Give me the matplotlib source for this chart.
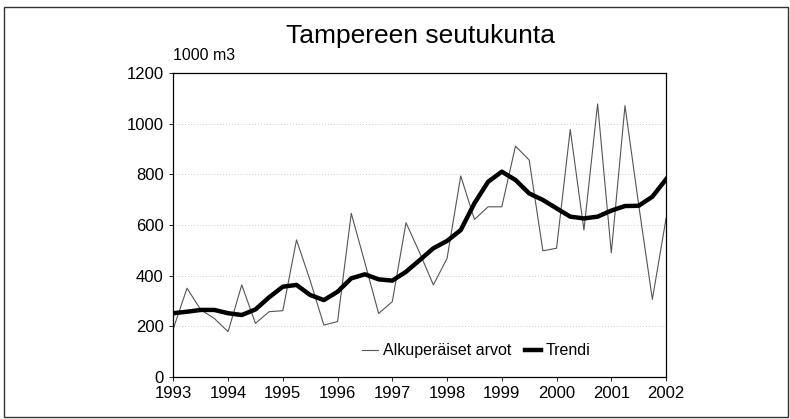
import matplotlib.pyplot as plt
import numpy as np
from matplotlib.patches import Rectangle

# quarterly values, 1993Q1 .. 2002Q1 (1000 m3)
YEAR_START = 1993.0
ORIGINAL = [190, 350, 265, 230, 178, 363, 211, 257, 261, 541, 380, 204, 218, 646,
            450, 250, 297, 609, 490, 363, 468, 794, 622, 672, 672, 912, 857, 498,
            508, 978, 580, 1079, 490, 1072, 680, 306, 626]
TREND = [251, 257, 264, 264, 251, 244, 266, 314, 356, 363, 323, 303, 336, 389,
         405, 385, 380, 415, 461, 508, 537, 580, 686, 771, 811, 778, 725, 699,
         666, 633, 626, 633, 657, 675, 676, 712, 781]
YEARS = list(range(1993, 2003))

plt.rcParams['font.family'] = ['Liberation Sans', 'DejaVu Sans']

x = YEAR_START + np.arange(len(ORIGINAL)) * 0.25

fig = plt.figure(figsize=(7.9, 4.19), dpi=100)
ax = fig.add_axes([0.2194, 0.101, 0.6237, 0.724])

ax.plot(x, ORIGINAL, color='#555555', lw=0.8, label='Alkuperäiset arvot')
ax.plot(x, TREND, color='black', lw=3.2, label='Trendi', solid_joinstyle='round')

ax.set_xlim(1993, 2002)
ax.set_ylim(0, 1200)
ax.set_xticks(YEARS)
ax.set_yticks(range(0, 1201, 200))
ax.tick_params(labelsize=12, length=3, width=0.6, pad=4)
ax.grid(axis='y', ls=(0, (1, 2.5)), color='#c0c0c0', lw=0.6)
for s in ax.spines.values():
    s.set_linewidth(0.9)

ax.text(0.0, 1.035, '1000 m3', transform=ax.transAxes, fontsize=11.5, ha='left', va='bottom')
fig.text(0.532, 0.915, 'Tampereen seutukunta', fontsize=19, ha='center', va='center')

ax.legend(loc='center', bbox_to_anchor=(0.615, 0.085), ncol=2, frameon=False,
          fontsize=11.5, handlelength=1.0, handletextpad=0.3, columnspacing=0.9)

fig.patches.append(Rectangle((0.005, 0.005), 0.993, 0.978, transform=fig.transFigure,
                             fill=False, lw=1.0, ec='#333333'))

fig.savefig('out.png', dpi=100)
